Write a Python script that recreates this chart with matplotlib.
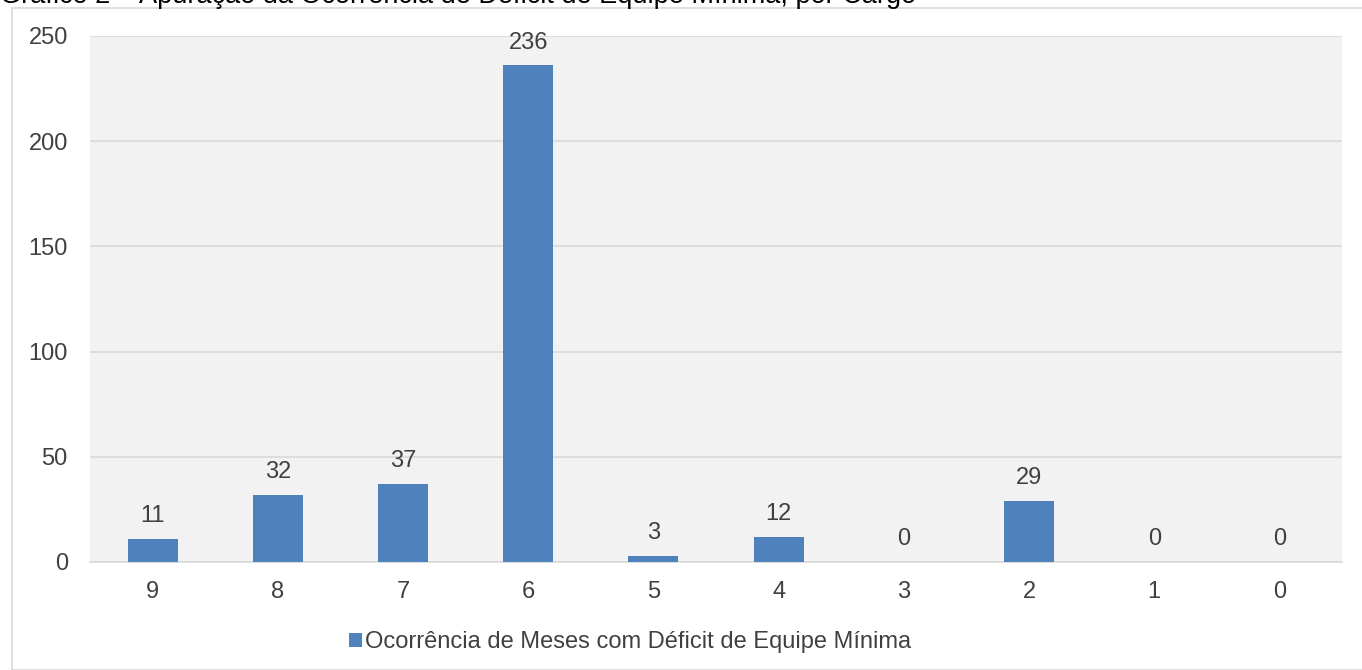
import matplotlib.pyplot as plt
from matplotlib.patches import Rectangle

plt.rcParams['font.family'] = ['Liberation Sans', 'DejaVu Sans']

# number of positions per cargo and months with deficit
categorias = ['9', '8', '7', '6', '5', '4', '3', '2', '1', '0']
ocorrencias = [11, 32, 37, 236, 3, 12, 0, 29, 0, 0]
serie = 'Ocorrência de Meses com Déficit de Equipe Mínima'
titulo = 'Gráfico 2 – Apuração da Ocorrência de Déficit de Equipe Mínima, por Cargo'

W, H = 1362, 670
fig = plt.figure(figsize=(W / 100, H / 100), dpi=100)

# chart frame
fig.patches.append(Rectangle((12 / W, 0), 1, 1 - 8 / H, transform=fig.transFigure,
                             facecolor='none', edgecolor='#D9D9D9', linewidth=1.2,
                             zorder=-1))
fig.text(0, 1 - 3 / H, titulo, fontsize=19.5, color='#000000', va='baseline', ha='left')

ax = fig.add_axes([90 / W, 1 - 562 / H, 1252 / W, 526 / H])
ax.set_facecolor('#F2F2F2')

x = range(len(categorias))
ax.bar(x, ocorrencias, width=0.4, color='#4F81BD', zorder=3, label=serie)
for xi, v in zip(x, ocorrencias):
    ax.annotate(str(v), (xi, v), xytext=(0, 8.5), textcoords='offset points',
                ha='center', va='bottom', fontsize=17, color='#404040')

ax.set_xlim(-0.5, len(categorias) - 0.5)
ax.set_ylim(0, 250)
ax.set_yticks(range(0, 251, 50))
ax.set_xticks(list(x))
ax.set_xticklabels(categorias)
ax.grid(axis='y', color='#D9D9D9', linewidth=1.2, zorder=0)
ax.set_axisbelow(True)
for s in ['left', 'right', 'top']:
    ax.spines[s].set_visible(False)
ax.spines['bottom'].set_color('#D9D9D9')
ax.spines['bottom'].set_linewidth(1.2)
ax.tick_params(axis='both', length=0, labelsize=17, labelcolor='#404040')
ax.tick_params(axis='y', pad=16)
ax.tick_params(axis='x', pad=14)

fig.legend(loc='center', bbox_to_anchor=(630 / W, 1 - 642 / H), frameon=False,
           fontsize=17, labelcolor='#404040', handlelength=0.55, handleheight=0.55,
           handletextpad=0.15)

fig.savefig('out.png', dpi=100)
